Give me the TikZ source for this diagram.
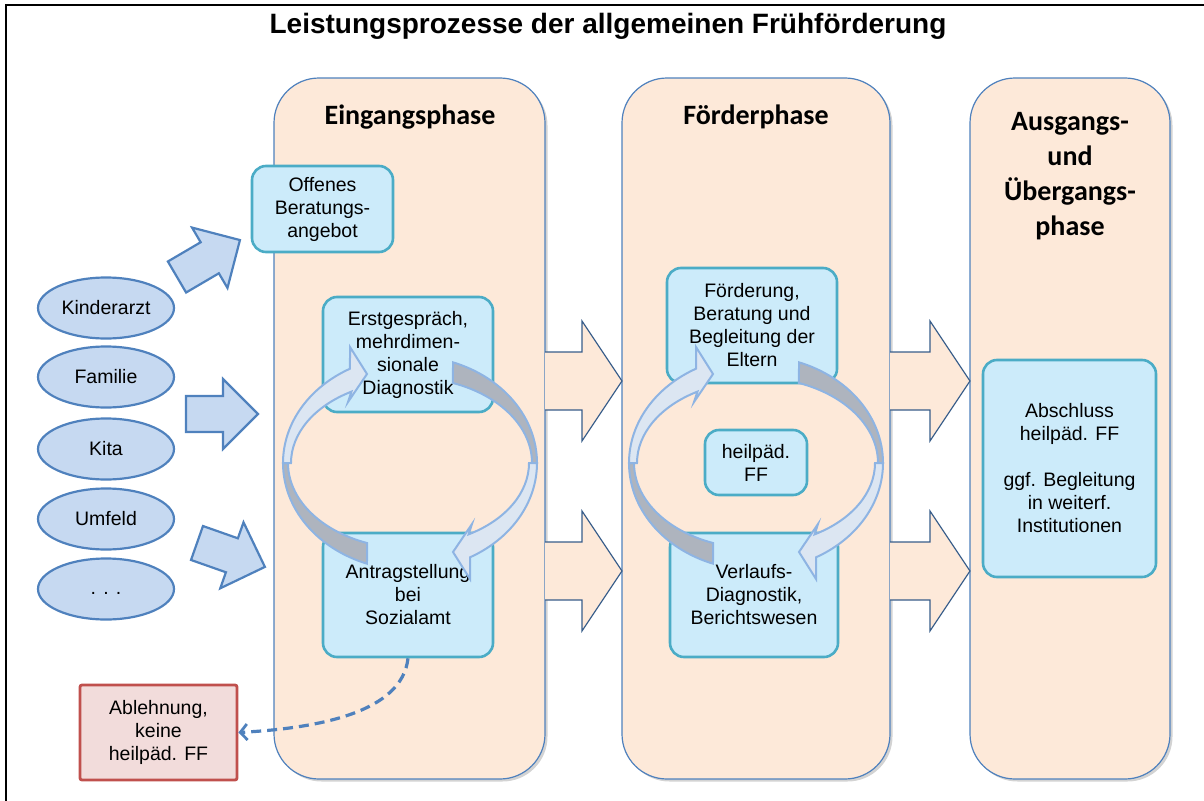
\documentclass[tikz,border=0pt]{standalone}
\usepackage{fontspec}
\setmainfont{Liberation Sans}
\newfontfamily\calibri{Carlito}
\usetikzlibrary{shapes.geometric,shadows,arrows.meta,calc}
\definecolor{peach}{HTML}{FDE9D9}
\definecolor{phaseborder}{HTML}{4F81BD}
\definecolor{boxfill}{HTML}{CCEBFA}
\definecolor{boxborder}{HTML}{4BACC6}
\definecolor{ovalfill}{HTML}{C6D9F1}
\definecolor{arrdark}{HTML}{385D8A}
\definecolor{rejfill}{HTML}{F2DCDB}
\definecolor{rejborder}{HTML}{C0504D}
\definecolor{cycedge}{HTML}{8EB4E3}
\definecolor{cyclight}{HTML}{DCE6F2}
\definecolor{cycgray}{HTML}{AEB4BE}
\tikzset{
  phasebox/.style={draw=phaseborder, fill=peach, line width=1.2pt, rounded corners=45pt,
    drop shadow={shadow xshift=2.5pt, shadow yshift=-2.5pt, opacity=0.35}},
  pbox/.style={draw=boxborder, fill=boxfill, line width=2.6pt, rounded corners=14pt,
    align=center, inner sep=0pt, font=\fontsize{19.5}{23}\selectfont},
  oval/.style={ellipse, draw=phaseborder, fill=ovalfill, line width=2.2pt,
    minimum width=136pt, minimum height=61pt, inner sep=0pt, font=\fontsize{19.5}{23}\selectfont},
  rejbox/.style={draw=rejborder, fill=rejfill, line width=2.8pt, rounded corners=2pt,
    align=center, inner sep=0pt, font=\fontsize{19.5}{23}\selectfont},
  phasetitle/.style={font=\calibri\bfseries\fontsize{28}{35}\selectfont, align=center},
  blockarrow/.style={draw=phaseborder, fill=ovalfill, line width=2.2pt, line join=miter},
  phasearrow/.style={draw=arrdark, line width=1.2pt, line join=miter},
  dashconn/.style={draw=phaseborder, line width=3.2pt, dash pattern=on 10pt off 6pt,
    -{Straight Barb[length=7pt,width=16pt,line width=2.8pt]}},
  cycpart/.style={draw=cycedge, line width=2pt},
  cyc/.pic={
    \foreach \r in {0,180}{
      \begin{scope}[rotate=\r]
        \path[cycpart, fill=cycgray] (-70.2:127 and 107)
          arc[start angle=-70.2, end angle=0, x radius=127, y radius=107]
          -- (0:122 and 85.5)
          arc[start angle=0, end angle=-69.4, x radius=122, y radius=85.5] -- cycle;
        \path[cycpart, fill=cyclight] (0:127 and 107)
          arc[start angle=0, end angle=61.8, x radius=127, y radius=107]
          -- (60,116) -- (43,89) -- (62,61) -- (60.5:119 and 82)
          arc[start angle=60.5, end angle=0, x radius=119, y radius=82] -- cycle;
      \end{scope}
    }
  }
}
\begin{document}
\begin{tikzpicture}[x=1pt,y=-1pt]
\useasboundingbox (0,0) rectangle (1204,800);
% outer frame
\draw[line width=2.4pt] (6,802) -- (6,5) -- (1206,5);
% title
\node[font=\bfseries\fontsize{28}{32}\selectfont] (title) at (608,26) {Leistungsprozesse der allgemeinen Frühförderung};
% phases
\node[phasebox, minimum width=271pt, minimum height=701pt] (ein) at (409.5,428.5) {};
\node[phasebox, minimum width=268pt, minimum height=701pt] (foe) at (756,428.5) {};
\node[phasebox, minimum width=200pt, minimum height=701pt] (aus) at (1070,428.5) {};
% phase arrows
\foreach \xa/\xb/\xc in {545/582/622, 890/930/970}{
  \foreach \yc in {381,571}{
    \fill[peach] (\xa,\yc-29) -- (\xb,\yc-29) -- (\xb,\yc-60) -- (\xc,\yc)
      -- (\xb,\yc+60) -- (\xb,\yc+29) -- (\xa,\yc+29) -- cycle;
    \draw[phasearrow] (\xa,\yc-29) -- (\xb,\yc-29) -- (\xb,\yc-60) -- (\xc,\yc)
      -- (\xb,\yc+60) -- (\xb,\yc+29) -- (\xa,\yc+29);
  }
}
% phase titles
\node[phasetitle] (eint) at (410,117) {Eingangsphase};
\node[phasetitle] (foet) at (756,117) {Förderphase};
\node[phasetitle] (aust) at (1070,176) {Ausgangs-\\und\\Übergangs-\\phase};
% left block arrows
\foreach \px/\py/\ang/\len in {177/277/30.4/73, 186/414/0/72, 197/543/-19.4/72}{
  \begin{scope}[shift={(\px,\py)}, rotate=\ang]
    \path[blockarrow] (0,-18) -- (\len-35,-18) -- (\len-35,-35) -- (\len,0)
      -- (\len-35,35) -- (\len-35,18) -- (0,18) -- cycle;
  \end{scope}
}
% sources
\node[oval] (kinder) at (106,308) {Kinderarzt};
\node[oval] (familie) at (106,377) {Familie};
\node[oval] (kita) at (106,449) {Kita};
\node[oval] (umfeld) at (106,519) {Umfeld};
\node[oval, text height=14pt, text depth=4pt] (dots) at (106,589) {. . .};
% boxes
\node[pbox, minimum width=141pt, minimum height=86pt] (offen) at (322.5,209) {Offenes\\Beratungs-\\angebot};
\node[pbox, minimum width=170pt, minimum height=115pt] (erst) at (408,354.5) {Erstgespräch,\\mehrdimen-\\sionale\\Diagnostik};
\node[pbox, minimum width=170pt, minimum height=124pt] (antrag) at (408,595) {Antragstellung\\bei\\Sozialamt};
\node[pbox, minimum width=170pt, minimum height=115pt] (foerd) at (752,325.5) {Förderung,\\Beratung und\\Begleitung der\\Eltern};
\node[pbox, minimum width=102pt, minimum height=65pt] (heil) at (756,462.5) {heilpäd.\\FF};
\node[pbox, minimum width=168pt, minimum height=124pt] (verl) at (754,595) {Verlaufs-\\Diagnostik,\\Berichtswesen};
\node[pbox, minimum width=173pt, minimum height=217pt] (absch) at (1069.5,468.5) {Abschluss\\heilpäd. FF\\[23pt]ggf. Begleitung\\in weiterf.\\Institutionen};
\node[rejbox, minimum width=157pt, minimum height=95pt] (ablehn) at (158.5,732.5) {Ablehnung,\\keine\\heilpäd. FF};
% cycle arrows
\pic at (410,463) {cyc};
\pic at (756,463) {cyc};
% dashed connector
\draw[dashconn] (antrag.south) .. controls (402,712) and (320,728) .. (ablehn.east);
\end{tikzpicture}
\end{document}
